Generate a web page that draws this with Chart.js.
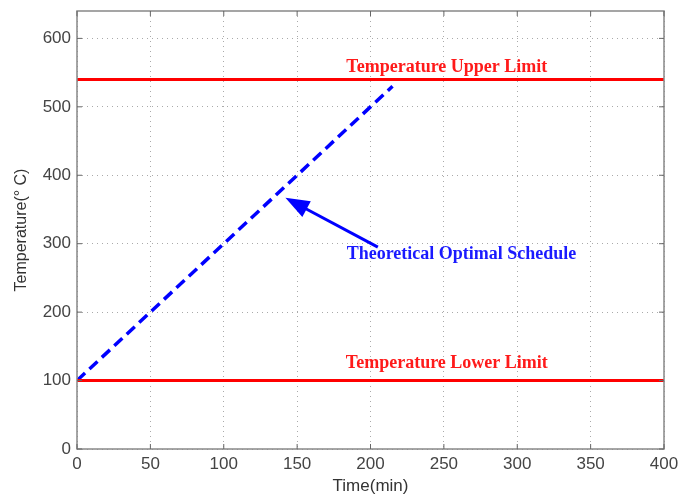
<!DOCTYPE html>
<html><head><meta charset="utf-8">
<script src="https://cdn.jsdelivr.net/npm/chart.js@4"></script>
<style>html,body{margin:0;padding:0;background:#fff}#wrap{width:679px;height:495px}</style>
</head><body><div id="wrap"><canvas id="c" width="679" height="495"></canvas></div>
<script>
// Data
const limitX = [0, 400];
const upperLimit = [540, 540];
const lowerLimit = [100, 100];
const scheduleX = [0, 215];
const scheduleY = [100, 530];
const xTicks = [0, 50, 100, 150, 200, 250, 300, 350, 400];
const yTicks = [0, 100, 200, 300, 400, 500, 600];
// Annotations (data coords)
const arrowFrom = [205, 295];
const arrowTo = [142, 367];
const noteTexts = ['Temperature Upper Limit', 'Theoretical Optimal Schedule', 'Temperature Lower Limit'];
const noteX = [252, 262, 252];
const noteY = [557, 284, 125];
const noteColors = ['#ff1a1a', '#1a1aff', '#ff1a1a'];

const toPts = (xs, ys) => xs.map((x, i) => ({x, y: ys[i]}));
const axisFont = {family: '"Liberation Sans", Arial, sans-serif', size: 17};

const annotPlugin = {
  id: 'annot',
  afterDatasetsDraw(chart) {
    const {ctx, chartArea: a, scales: {x, y}} = chart;
    ctx.save();
    // box
    ctx.strokeStyle = '#888';
    ctx.lineWidth = 1.5;
    ctx.strokeRect(a.left, a.top, a.right - a.left, a.bottom - a.top);
    // inner ticks
    ctx.lineWidth = 1;
    ctx.strokeStyle = '#666';
    xTicks.forEach(v => {
      const px = x.getPixelForValue(v);
      ctx.beginPath(); ctx.moveTo(px, a.bottom); ctx.lineTo(px, a.bottom - 5); ctx.stroke();
      ctx.beginPath(); ctx.moveTo(px, a.top); ctx.lineTo(px, a.top + 5); ctx.stroke();
    });
    yTicks.forEach(v => {
      const py = y.getPixelForValue(v);
      ctx.beginPath(); ctx.moveTo(a.left, py); ctx.lineTo(a.left + 5, py); ctx.stroke();
      ctx.beginPath(); ctx.moveTo(a.right, py); ctx.lineTo(a.right - 5, py); ctx.stroke();
    });
    // arrow
    const x1 = x.getPixelForValue(arrowFrom[0]), y1 = y.getPixelForValue(arrowFrom[1]);
    const x2 = x.getPixelForValue(arrowTo[0]), y2 = y.getPixelForValue(arrowTo[1]);
    const ang = Math.atan2(y2 - y1, x2 - x1);
    const hl = 24, hw = 9;
    const bx = x2 - hl * Math.cos(ang), by = y2 - hl * Math.sin(ang);
    ctx.strokeStyle = '#0000ff';
    ctx.fillStyle = '#0000ff';
    ctx.lineWidth = 3;
    ctx.beginPath(); ctx.moveTo(x1, y1); ctx.lineTo(bx + 4 * Math.cos(ang), by + 4 * Math.sin(ang)); ctx.stroke();
    ctx.beginPath();
    ctx.moveTo(x2, y2);
    ctx.lineTo(bx + hw * Math.sin(ang), by - hw * Math.cos(ang));
    ctx.lineTo(bx - hw * Math.sin(ang), by + hw * Math.cos(ang));
    ctx.closePath(); ctx.fill();
    // texts
    ctx.font = 'bold 18px "Liberation Serif", "Times New Roman", serif';
    ctx.textAlign = 'center';
    ctx.textBaseline = 'middle';
    noteTexts.forEach((t, i) => {
      ctx.fillStyle = noteColors[i];
      ctx.fillText(t, x.getPixelForValue(noteX[i]), y.getPixelForValue(noteY[i]));
    });
    ctx.restore();
  }
};

new Chart(document.getElementById('c'), {
  type: 'scatter',
  data: {
    datasets: [
      {data: toPts(limitX, upperLimit), showLine: true, borderColor: '#ff0000', borderWidth: 3, pointRadius: 0},
      {data: toPts(limitX, lowerLimit), showLine: true, borderColor: '#ff0000', borderWidth: 3, pointRadius: 0},
      {data: toPts(scheduleX, scheduleY), showLine: true, borderColor: '#0000ff', borderWidth: 3.5, borderDash: [11, 6], pointRadius: 0}
    ]
  },
  options: {
    responsive: false,
    animation: false,
    devicePixelRatio: 1,
    layout: {padding: {top: 11, right: 15, left: 0, bottom: 0}},
    plugins: {legend: {display: false}, tooltip: {enabled: false}},
    scales: {
      x: {
        type: 'linear', min: 0, max: 400,
        afterBuildTicks: s => { s.ticks = xTicks.map(v => ({value: v})); },
        afterFit: s => { s.height = 46; s.paddingLeft = 0; s.paddingRight = 0; },
        grid: {color: '#aaa', lineWidth: 1, drawTicks: false},
        border: {display: false, dash: [1, 4]},
        ticks: {color: '#444', font: axisFont, padding: 5, maxRotation: 0},
        title: {display: true, text: 'Time(min)', color: '#333', font: {family: axisFont.family, size: 17, lineHeight: 1}, padding: {top: 0, bottom: 0}}
      },
      y: {
        type: 'linear', min: 0, max: 640,
        afterBuildTicks: s => { s.ticks = yTicks.map(v => ({value: v})); },
        afterFit: s => { s.width = 77; s.paddingTop = 0; s.paddingBottom = 0; },
        grid: {color: '#aaa', lineWidth: 1, drawTicks: false},
        border: {display: false, dash: [1, 4]},
        ticks: {color: '#444', font: axisFont, padding: 6},
        title: {display: true, text: 'Temperature(° C)', color: '#333', font: {family: axisFont.family, size: 16}, padding: {top: 12, bottom: 0}}
      }
    }
  },
  plugins: [annotPlugin]
});
</script>
</body></html>
